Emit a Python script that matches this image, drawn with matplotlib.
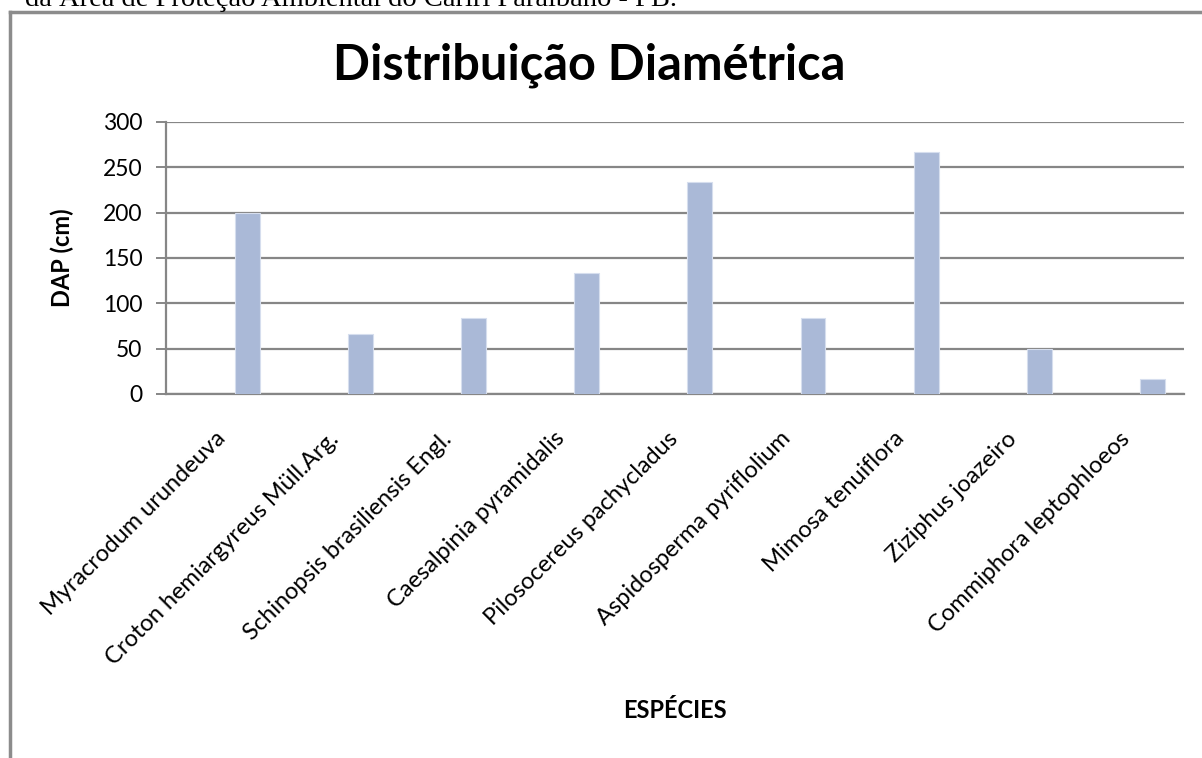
import matplotlib
matplotlib.use('Agg')
import matplotlib.pyplot as plt
from matplotlib.transforms import ScaledTranslation
from matplotlib.lines import Line2D

especies = ['Myracrodum urundeuva', 'Croton hemiargyreus Müll.Arg.',
            'Schinopsis brasiliensis Engl.', 'Caesalpinia pyramidalis',
            'Pilosocereus pachycladus', 'Aspidosperma pyriflolium',
            'Mimosa tenuiflora', 'Ziziphus joazeiro', 'Commiphora leptophloeos']
dap = [200, 66.7, 83.3, 133.3, 233.3, 83.3, 266.7, 50, 16.7]
y_ticks = [0, 50, 100, 150, 200, 250, 300]

plt.rcParams['font.family'] = ['Lato', 'DejaVu Sans']

fig = plt.figure(figsize=(12.02, 7.58), dpi=100)
ax = fig.add_axes([166/1202, 1 - 394/758, (1184 - 166)/1202, (394 - 122)/758])

x = list(range(len(especies)))
ax.bar([i + 0.22 for i in x], dap, width=0.22, color='#aab9d7',
       edgecolor='#d6deee', linewidth=0.8, zorder=3)

ax.set_xlim(-0.5, len(especies) - 0.5)
ax.set_ylim(0, 300)
ax.set_yticks(y_ticks)
ax.yaxis.grid(True, color='#868686', linewidth=1.6, zorder=0)
ax.tick_params(axis='y', length=7, width=1.4, color='#868686', pad=10, labelsize=16.5)
ax.tick_params(axis='x', length=0, pad=0)
for s in ['top', 'right']:
    ax.spines[s].set_visible(False)
for s in ['left', 'bottom']:
    ax.spines[s].set_color('#868686')
    ax.spines[s].set_linewidth(1.6)

ax.set_xticks(x)
ax.set_xticklabels(especies, rotation=45, ha='right', va='top',
                   rotation_mode='anchor', fontsize=17)
off = ScaledTranslation(-8/100, -34/100, fig.dpi_scale_trans)
for lab in ax.get_xticklabels():
    lab.set_transform(lab.get_transform() + off)

fig.text(62/1202, 1 - 258/758, 'DAP (cm)', rotation=90, ha='center', va='center',
         fontsize=17, fontweight='bold')
fig.text(675/1202, 1 - 711/758, 'ESPÉCIES', ha='center', va='center',
         fontsize=17, fontweight='bold')
fig.text(589/1202, 1 - 80/758, 'Distribuição Diamétrica', ha='center', va='baseline',
         fontsize=35, fontweight='bold')

# texto do documento cortado no topo
fig.text(25/1202, 1 - 6/758, 'da Área de Proteção Ambiental do Cariri Paraibano - PB.',
         ha='left', va='baseline', fontsize=20.5, family='Liberation Serif')

# moldura do gráfico
fig.add_artist(Line2D([10/1202, 10/1202], [0, 1 - 12/758], transform=fig.transFigure,
                      color='#8c8c8c', linewidth=2.5))
fig.add_artist(Line2D([10/1202, 1], [1 - 12/758, 1 - 12/758], transform=fig.transFigure,
                      color='#8c8c8c', linewidth=2.5))

fig.savefig('out.png', dpi=100)
